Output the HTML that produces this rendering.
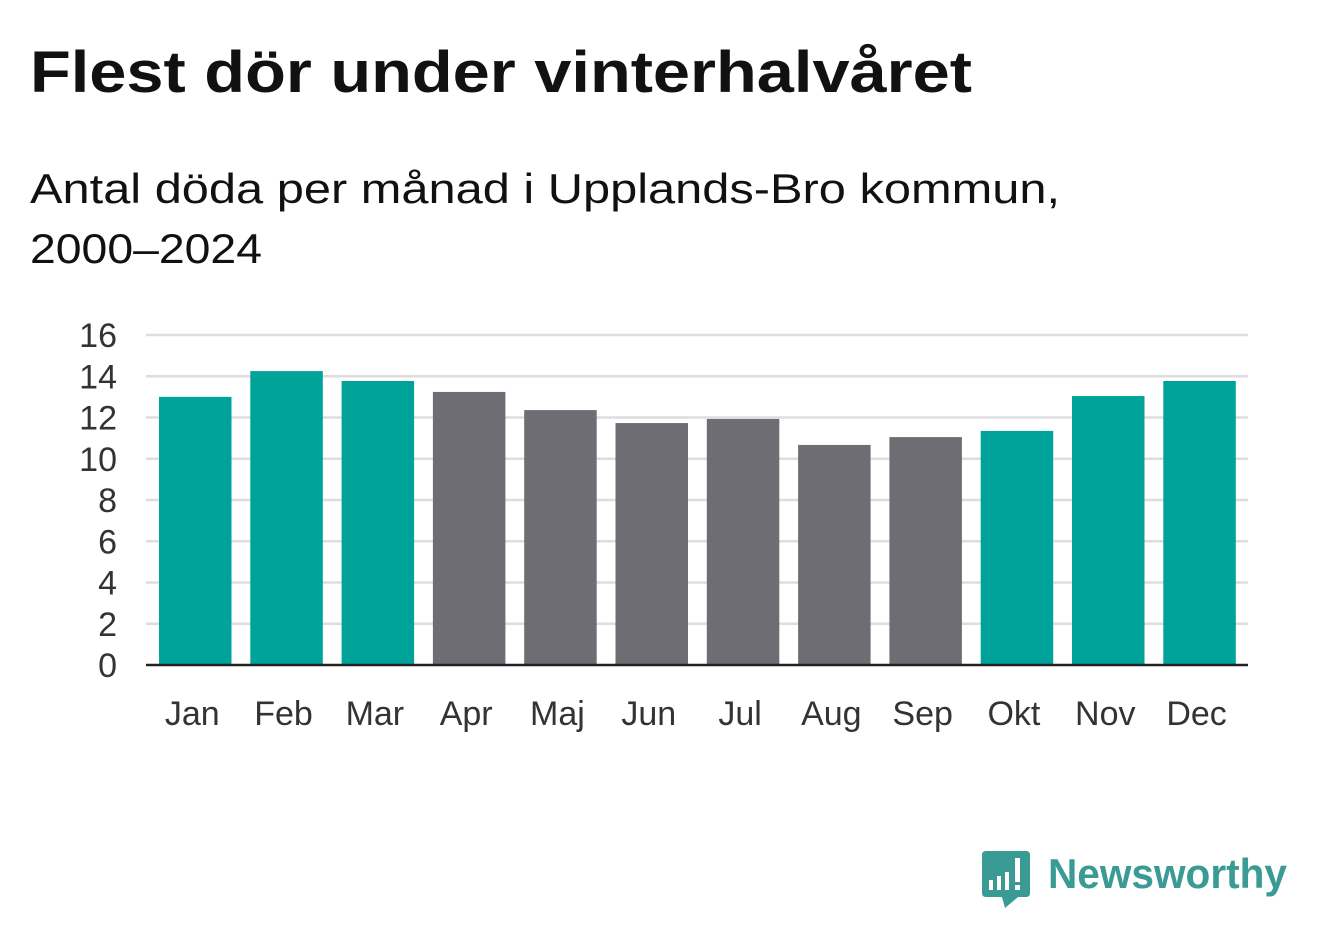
<!DOCTYPE html>
<html><head><meta charset="utf-8"><style>
body{margin:0;background:#fff;width:1322px;height:939px;overflow:hidden;font-family:"Liberation Sans","DejaVu Sans",sans-serif;}
</style></head><body>
<svg width="1322" height="939">
<text x="30" y="92" font-size="58" font-weight="bold" fill="#111" textLength="942" lengthAdjust="spacingAndGlyphs">Flest dör under vinterhalvåret</text>
<text x="30" y="203" font-size="42" fill="#111" textLength="1030" lengthAdjust="spacingAndGlyphs">Antal döda per månad i Upplands-Bro kommun,</text>
<text x="30" y="263" font-size="42" fill="#111" textLength="232" lengthAdjust="spacingAndGlyphs">2000–2024</text>
<g id="grid"></g>
<g id="bars"></g>
<g id="xl"></g>
<line x1="146" x2="1248" y1="665" y2="665" stroke="#222" stroke-width="2.5"/>
<g>
<path d="M986 851 H1026 Q1030 851 1030 855 V893 Q1030 897 1026 897 H1018 L1005 908 L1002 897 H986 Q982 897 982 893 V855 Q982 851 986 851 Z" fill="#3a9a94"/>
<rect x="989" y="880" width="4" height="10" fill="#fff"/>
<rect x="997" y="876" width="4" height="14" fill="#fff"/>
<rect x="1005" y="872" width="4" height="18" fill="#fff"/>
<rect x="1015" y="858" width="5" height="24" fill="#fff"/>
<rect x="1015" y="885" width="5" height="5" fill="#fff"/>
<text x="1048" y="888" font-size="42" font-weight="bold" fill="#3a9a94" textLength="239" lengthAdjust="spacingAndGlyphs">Newsworthy</text>
</g>
</svg>
<script>
const months=["Jan","Feb","Mar","Apr","Maj","Jun","Jul","Aug","Sep","Okt","Nov","Dec"];
const values=[13.0,14.25,13.77,13.24,12.36,11.73,11.93,10.67,11.05,11.35,13.04,13.77];
const winter=[true,true,true,false,false,false,false,false,false,true,true,true];
const yTicks=[0,2,4,6,8,10,12,14,16];
const NS="http://www.w3.org/2000/svg";
const x0=146,x1=1248,y0=665,yTop=335,yMax=16;
const y=v=>y0-(v/yMax)*(y0-yTop);
const firstBar=159,band=91.3,bw=72.5;
const grid=document.getElementById('grid'),bars=document.getElementById('bars'),xl=document.getElementById('xl');
function mk(t,a){const e=document.createElementNS(NS,t);for(const k in a)e.setAttribute(k,a[k]);return e;}
yTicks.forEach(t=>{
 if(t>0){const l=mk('line',{x1:x0,x2:x1,y1:y(t),y2:y(t),stroke:'#ddd','stroke-width':2.5});
 
 
 grid.appendChild(l);}
 const tx=mk('text',{x:117,y:y(t)+12,'font-size':34,fill:'#333','text-anchor':'end'});
 tx.textContent=t;
 
 
 grid.appendChild(tx);
});
months.forEach((m,i)=>{
 const bx=firstBar+i*band;
 const r=mk('rect',{x:bx,y:y(values[i]),width:bw,height:y0-y(values[i]),fill:winter[i]?'#00a39a':'#6e6d73'});
 
 
 bars.appendChild(r);
 const t=mk('text',{x:bx+bw/2-3,y:725,'font-size':34,fill:'#333','text-anchor':'middle'});
 t.textContent=m;
 
 
 xl.appendChild(t);
});
</script>
</body></html>
